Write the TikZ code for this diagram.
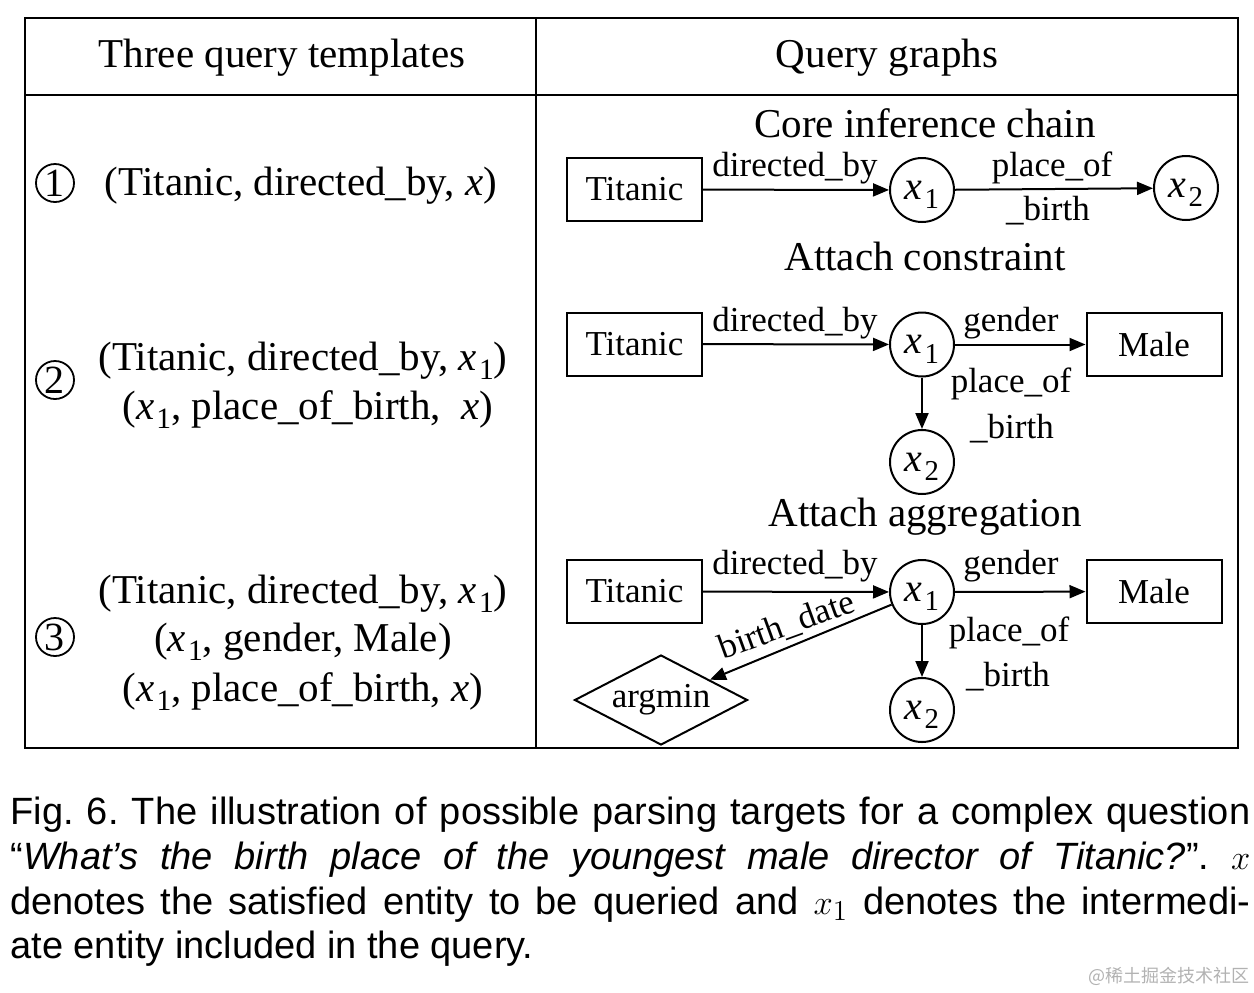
\documentclass[tikz,border=0pt]{standalone}
\usepackage[no-math]{fontspec}
\usepackage{graphicx}
\setmainfont{Liberation Serif}
\newfontfamily\capfont{Liberation Sans}
\newfontfamily\cjkfont{Noto Sans CJK SC}
\usetikzlibrary{arrows.meta,shapes.geometric}
\newcommand\xsub[1]{\textit{x}\kern0.05em\raisebox{-0.24em}{\scalebox{0.72}{#1}}}
\frenchspacing
\tikzset{
  tbl/.style={line width=1.2pt},
  hdr/.style={font=\fontsize{20.5}{24}\selectfont, anchor=base, inner sep=0pt},
  tmpl/.style={font=\fontsize{20.5}{24}\selectfont, anchor=base, inner sep=0pt},
  gtitle/.style={font=\fontsize{20.5}{24}\selectfont, anchor=base, inner sep=0pt},
  ent/.style={draw, line width=1pt, minimum width=67.5pt, minimum height=31.5pt, inner sep=0pt, font=\fontsize{17.5}{20}\selectfont},
  var/.style={draw, circle, line width=1pt, minimum size=32pt, inner sep=0pt, text depth=0pt, font=\fontsize{20}{22}\selectfont},
  agg/.style={draw, diamond, aspect=2, line width=1pt, minimum width=86.5pt, minimum height=45pt, inner sep=0pt, font=\fontsize{17.5}{20}\selectfont},
  rel/.style={font=\fontsize{17.5}{20}\selectfont, anchor=base, inner sep=0pt},
  arr/.style={line width=1pt, -{Triangle[length=8pt,width=6.5pt]}},
  num/.style={draw, circle, line width=0.9pt, minimum size=19pt, inner sep=0pt, font=\fontsize{20}{22}\selectfont},
  captxt/.style={anchor=base west, inner sep=0pt, font=\capfont\fontsize{19}{22}\selectfont\frenchspacing}
}
\begin{document}
\begin{tikzpicture}[x=0.5pt,y=-0.5pt]
\useasboundingbox (0,0) rectangle (1254,992);
% table frame
\draw[tbl] (25,18) rectangle (1238,748);
\draw[tbl] (25,95) -- (1238,95);
\draw[tbl] (536,18) -- (536,748);
% headers
\node[hdr] (h1) at (282,67) {Three query templates};
\node[hdr] (h2) at (887,67) {Query graphs};
% left column
\node[num] (n1) at (55,183) {1};
\node[tmpl] (t1) at (301,195) {(Titanic, directed\_by, \textit{x})};
\node[num] (n2) at (55,380) {2};
\node[tmpl] (t2a) at (303,370) {(Titanic, directed\_by, \xsub{1})};
\node[tmpl] (t2b) at (308,419) {(\xsub{1}, place\_of\_birth,\ \ \textit{x})};
\node[num] (n3) at (55,637) {3};
\node[tmpl] (t3a) at (303,603) {(Titanic, directed\_by, \xsub{1})};
\node[tmpl] (t3b) at (303,651) {(\xsub{1}, gender, Male)};
\node[tmpl] (t3c) at (303,701) {(\xsub{1}, place\_of\_birth, \textit{x})};
% graph titles
\node[gtitle] (g1) at (925,137) {Core inference chain};
\node[gtitle] (g2) at (925,270) {Attach constraint};
\node[gtitle] (g3) at (925,526) {Attach aggregation};
% row 1
\node[ent] (ti1) at (634.5,189.5) {Titanic};
\node[var] (a1) at (922,190) {\xsub{1}};
\node[var] (b1) at (1186,188) {\xsub{2}};
\draw[arr] (ti1) -- (a1);
\draw[arr] (a1) -- (b1);
\node[rel] (l1a) at (795,176) {directed\_by};
\node[rel] (l1b) at (1052,176) {place\_of};
\node[rel] (l1c) at (1048,220) {\_birth};
% row 2
\node[ent] (ti2) at (634.5,344) {Titanic};
\node[var] (a2) at (922,344.5) {\xsub{1}};
\node[ent] (m2) at (1154,344.5) {Male};
\node[var] (b2) at (922,462) {\xsub{2}};
\draw[arr] (ti2) -- (a2);
\draw[arr] (a2) -- (m2);
\draw[arr] (a2) -- (b2);
\node[rel] (l2a) at (795,331) {directed\_by};
\node[rel] (l2b) at (1011,331) {gender};
\node[rel] (l2c) at (1011,392) {place\_of};
\node[rel] (l2d) at (1012,438) {\_birth};
% row 3
\node[ent] (ti3) at (634.5,591.5) {Titanic};
\node[var] (a3) at (922,592) {\xsub{1}};
\node[ent] (m3) at (1154,591.5) {Male};
\node[var] (b3) at (922,710) {\xsub{2}};
\node[agg] (ag3) at (661,700) {argmin};
\draw[arr] (ti3) -- (a3);
\draw[arr] (a3) -- (m3);
\draw[arr] (a3) -- (b3);
\draw[arr] (a3) -- (ag3);
\node[rel] (l3a) at (795,574) {directed\_by};
\node[rel] (l3b) at (1011,574) {gender};
\node[rel] (l3c) at (1009,641) {place\_of};
\node[rel] (l3d) at (1008,686) {\_birth};
\node[rel, anchor=center, rotate=20] (l3e) at (787,626) {birth\_date};
% caption
\node[captxt] (c1) at (10,824) {\makebox[620pt][s]{Fig. 6. The illustration of possible parsing targets for a complex question}};
\node[captxt] (c2) at (10,869) {\makebox[620pt][s]{“\textit{What’s the birth place of the youngest male director of Titanic?}”. $x$}};
\node[captxt] (c3) at (10,914) {\makebox[620pt][s]{denotes the satisfied entity to be queried and $x_1$ denotes the intermedi-}};
\node[captxt] (c4) at (10,958) {ate entity included in the query.};
% watermark
\node[anchor=base east, inner sep=0pt, text=black!30, font=\cjkfont\fontsize{9}{10}\selectfont] (wm) at (1250,982) {@稀土掘金技术社区};
\end{tikzpicture}
\end{document}
